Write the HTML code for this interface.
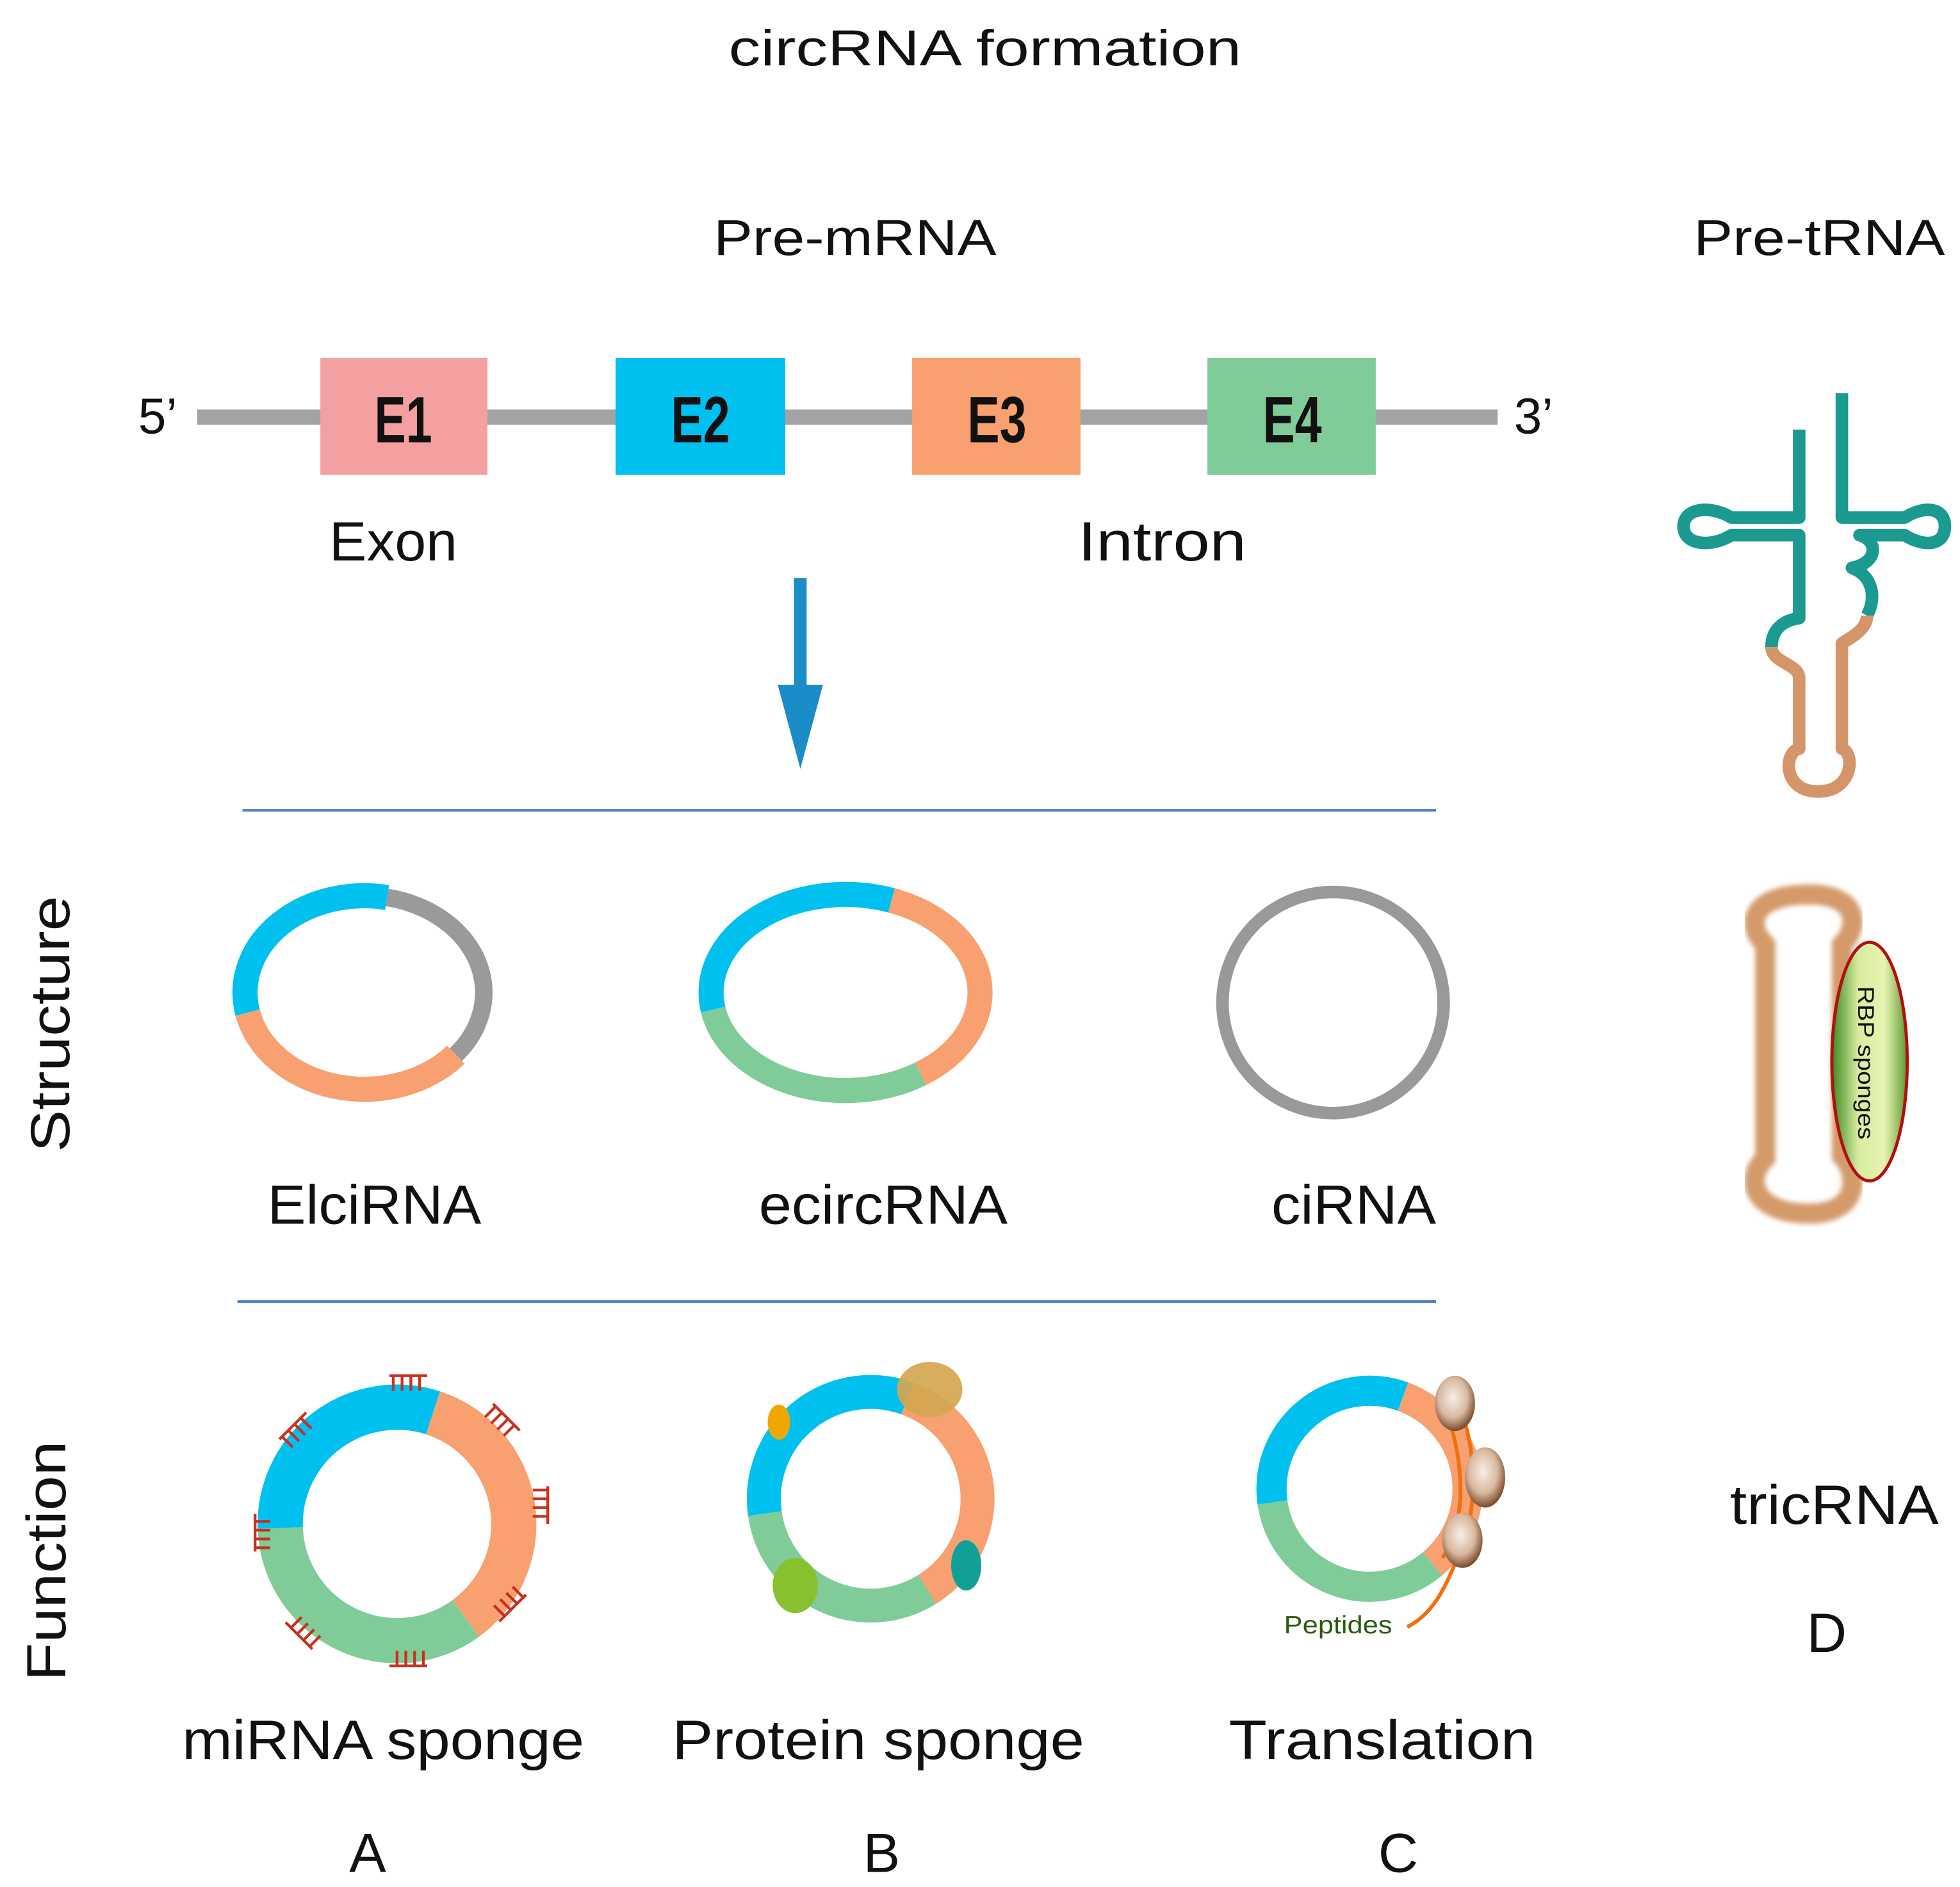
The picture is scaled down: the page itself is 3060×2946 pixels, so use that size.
<!DOCTYPE html>
<html><head><meta charset="utf-8"><style>
html,body{margin:0;padding:0;background:#fff;}
svg{display:block;}
text{font-family:"Liberation Sans",sans-serif;fill:#111;}
</style></head><body>
<svg width="3060" height="2946" viewBox="0 0 1560 1502" preserveAspectRatio="none" xmlns="http://www.w3.org/2000/svg">
<defs>
<linearGradient id="rbp" x1="0" x2="1" y1="0" y2="0">
<stop offset="0" stop-color="#3a8a20"/><stop offset="0.35" stop-color="#d8eca0"/><stop offset="0.7" stop-color="#e8f4b0"/><stop offset="1" stop-color="#5a9a30"/>
</linearGradient>
<radialGradient id="rib" cx="0.45" cy="0.4" r="0.6">
<stop offset="0" stop-color="#f8efe6"/><stop offset="0.6" stop-color="#d8b8a0"/><stop offset="1" stop-color="#7a4a2a"/>
</radialGradient>
<filter id="blur"><feGaussianBlur stdDeviation="2"/></filter>
<g id="tick"><path d="M-15,0 H15 M-12,0 V12 M-5,0 V12 M2,0 V12 M9,0 V12" stroke="#c83020" stroke-width="2.2" fill="none"/></g>
</defs>

<text x="580" y="52" font-size="40" textLength="408" lengthAdjust="spacingAndGlyphs">circRNA formation</text>
<text x="568" y="203" font-size="40" textLength="225" lengthAdjust="spacingAndGlyphs">Pre-mRNA</text>
<text x="1348" y="203" font-size="40" textLength="200" lengthAdjust="spacingAndGlyphs">Pre-tRNA</text>

<line x1="157" y1="332" x2="1192" y2="332" stroke="#a3a3a3" stroke-width="12"/>
<rect x="255" y="285" width="133" height="93" fill="#f4a0a0"/>
<rect x="490" y="285" width="135" height="93" fill="#00c0f0"/>
<rect x="726" y="285" width="134" height="93" fill="#f8a070"/>
<rect x="961" y="285" width="134" height="93" fill="#80cc98"/>
<g font-weight="bold" font-size="52">
<text x="298" y="352" textLength="46" lengthAdjust="spacingAndGlyphs">E1</text>
<text x="534" y="352" textLength="47" lengthAdjust="spacingAndGlyphs">E2</text>
<text x="770" y="352" textLength="47" lengthAdjust="spacingAndGlyphs">E3</text>
<text x="1005" y="352" textLength="47" lengthAdjust="spacingAndGlyphs">E4</text>
</g>
<text x="110" y="345" font-size="40">5’</text>
<text x="1205" y="345" font-size="40">3’</text>
<text x="262" y="446" font-size="44" textLength="102" lengthAdjust="spacingAndGlyphs">Exon</text>
<text x="858" y="446" font-size="44" textLength="134" lengthAdjust="spacingAndGlyphs">Intron</text>

<rect x="632" y="460" width="10" height="90" fill="#1a8cc8"/>
<polygon points="619,545 655,545 637,612" fill="#1a8cc8"/>

<line x1="193" y1="645" x2="1143" y2="645" stroke="#4a7fd0" stroke-width="2"/>
<line x1="189" y1="1036" x2="1143" y2="1036" stroke="#4a7fd0" stroke-width="2"/>

<text transform="translate(55,917) rotate(-90)" font-size="44" textLength="204" lengthAdjust="spacingAndGlyphs">Structure</text>
<text transform="translate(52,1338) rotate(-90)" font-size="44" textLength="191" lengthAdjust="spacingAndGlyphs">Function</text>

<g fill="none" stroke-width="20">
<path d="M197.1,806 A95,77 0 0 1 308.1,714.4" stroke="#00c0f0"/>
<path d="M308.1,714.4 A95,77 0 0 1 362.8,839.5" stroke="#9a9a9a" stroke-width="14"/>
<path d="M362.8,839.5 A95,77 0 0 1 197.1,806" stroke="#f8a070"/>
<path d="M567.6,803.6 A107,78 0 0 1 709.6,716.7" stroke="#00c0f0"/>
<path d="M709.6,716.7 A107,78 0 0 1 732.8,854.7" stroke="#f8a070"/>
<path d="M732.8,854.7 A107,78 0 0 1 567.6,803.6" stroke="#80cc98"/>
<circle cx="1061" cy="798" r="88" stroke="#999" stroke-width="10"/>
</g>
<text x="213" y="974" font-size="44" textLength="170" lengthAdjust="spacingAndGlyphs">ElciRNA</text>
<text x="604" y="974" font-size="44" textLength="198" lengthAdjust="spacingAndGlyphs">ecircRNA</text>
<text x="1012" y="974" font-size="44" textLength="131" lengthAdjust="spacingAndGlyphs">ciRNA</text>

<g fill="none" stroke-width="36">
<path d="M223.1,1216.2 A93,93 0 0 1 344.7,1124.6" stroke="#00c0f0"/>
<path d="M344.7,1124.6 A93,93 0 0 1 370.7,1288.2" stroke="#f8a070"/>
<path d="M370.7,1288.2 A93,93 0 0 1 223.1,1216.2" stroke="#80cc98"/>
</g>
<use href="#tick" transform="translate(325,1095) rotate(0)"/>
<use href="#tick" transform="translate(403,1128) rotate(45)"/>
<use href="#tick" transform="translate(436,1198) rotate(90)"/>
<use href="#tick" transform="translate(408,1280) rotate(135)"/>
<use href="#tick" transform="translate(325,1326) rotate(180)"/>
<use href="#tick" transform="translate(238,1302) rotate(225)"/>
<use href="#tick" transform="translate(203,1220) rotate(270)"/>
<use href="#tick" transform="translate(233,1135) rotate(315)"/>

<g fill="none" stroke-width="27">
<path d="M608.8,1204.8 A85,85 0 0 1 722.1,1113.1" stroke="#00c0f0"/>
<path d="M722.1,1113.1 A85,85 0 0 1 738,1265.1" stroke="#f8a070"/>
<path d="M738,1265.1 A85,85 0 0 1 608.8,1204.8" stroke="#80cc98"/>
</g>
<ellipse cx="740" cy="1106" rx="26" ry="22" fill="#d4a650" opacity="0.92"/>
<ellipse cx="620" cy="1132" rx="9" ry="14" fill="#f0a800"/>
<ellipse cx="633" cy="1262" rx="18" ry="22" fill="#88c030"/>
<ellipse cx="769" cy="1246" rx="12" ry="20" fill="#10a098"/>

<g fill="none" stroke-width="24">
<path d="M1012.8,1195.9 A78,78 0 0 1 1116.7,1111.7" stroke="#00c0f0"/>
<path d="M1116.7,1111.7 A78,78 0 0 1 1140.1,1244.8" stroke="#f8a070"/>
<path d="M1140.1,1244.8 A78,78 0 0 1 1012.8,1195.9" stroke="#80cc98"/>
</g>
<path d="M1150,1100 C1175,1130 1180,1200 1160,1240 C1150,1265 1140,1285 1120,1295" fill="none" stroke="#f07010" stroke-width="3"/>
<path d="M1145,1110 C1165,1150 1170,1210 1148,1240" fill="none" stroke="#f07010" stroke-width="3"/>
<ellipse cx="1158" cy="1117" rx="16" ry="22" fill="url(#rib)"/>
<ellipse cx="1182" cy="1176" rx="16" ry="24" fill="url(#rib)"/>
<ellipse cx="1164" cy="1226" rx="16" ry="22" fill="url(#rib)"/>
<text x="1022" y="1300" font-size="20" style="fill:#2a5a10" textLength="86" lengthAdjust="spacingAndGlyphs">Peptides</text>

<text x="145" y="1400" font-size="44" textLength="320" lengthAdjust="spacingAndGlyphs">miRNA sponge</text>
<text x="535" y="1400" font-size="44" textLength="328" lengthAdjust="spacingAndGlyphs">Protein sponge</text>
<text x="978" y="1400" font-size="44" textLength="244" lengthAdjust="spacingAndGlyphs">Translation</text>
<text x="278" y="1490" font-size="44">A</text>
<text x="687" y="1490" font-size="44">B</text>
<text x="1097" y="1490" font-size="44">C</text>

<g fill="none" stroke-width="10" stroke-linejoin="round">
<path d="M1432,342 V412 H1378 C1362,402 1340,404 1340,419 C1340,434 1362,436 1378,426 H1432 V492 C1418,494 1410,502 1410,515" stroke="#1a9a90"/>
<path d="M1466,313 V412 H1516 C1532,402 1548,404 1548,419 C1548,434 1532,436 1516,426 H1480 C1495,430 1495,448 1474,452 C1490,458 1494,475 1486,490" stroke="#1a9a90"/>
<path d="M1410,515 C1410,528 1432,528 1432,540 V596 C1420,598 1418,630 1447,630 C1476,630 1476,598 1466,596 V512 C1476,506 1486,500 1486,490" stroke="#d4956a"/>
</g>

<path d="M1405,752 C1388,735 1395,712 1440,712 C1480,712 1480,738 1466,752 V920 C1480,935 1480,966 1440,966 C1395,966 1388,938 1405,922 Z" fill="none" stroke="#d49a6a" stroke-width="16" filter="url(#blur)"/>
<ellipse cx="1488" cy="845" rx="30" ry="95" fill="url(#rbp)" stroke="#b01010" stroke-width="2.5"/>
<text transform="translate(1479,785) rotate(90)" font-size="18" textLength="122" lengthAdjust="spacingAndGlyphs">RBP sponges</text>

<text x="1377" y="1213" font-size="44" textLength="166" lengthAdjust="spacingAndGlyphs">tricRNA</text>
<text x="1438" y="1315" font-size="44">D</text>
</svg>
</body></html>
